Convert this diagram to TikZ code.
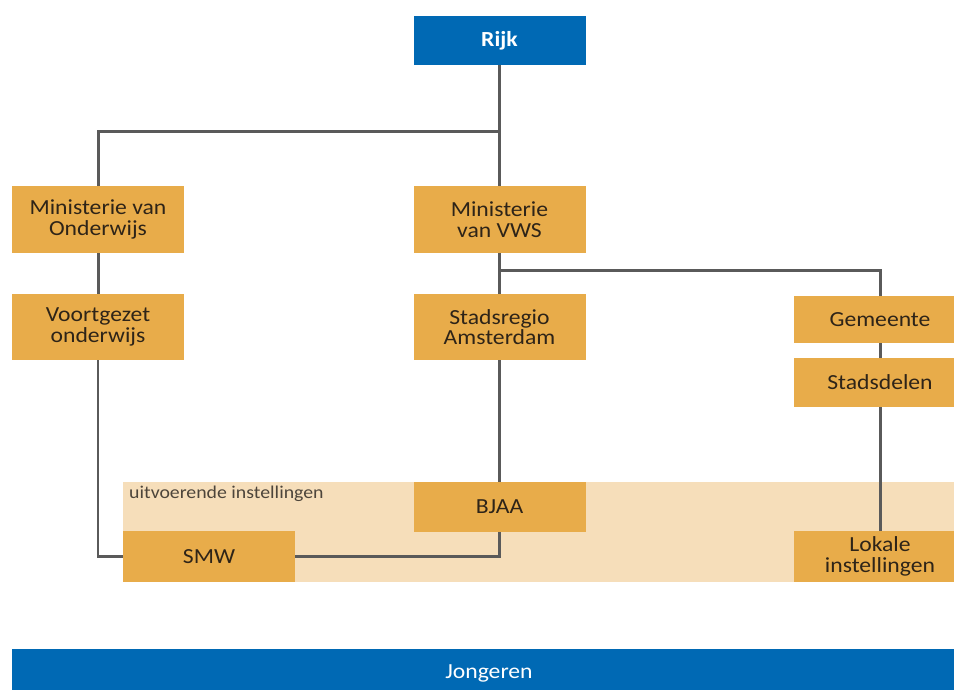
\documentclass[tikz,border=0pt]{standalone}
\usepackage{fontspec}
\setmainfont{Carlito}[FakeStretch=1.1]
\definecolor{boxor}{HTML}{E8AC4A}
\definecolor{bandor}{HTML}{F6DEBA}
\definecolor{boxblue}{HTML}{0069B4}
\definecolor{linegray}{HTML}{5A5A5A}
\definecolor{txtdark}{HTML}{2E2418}
\begin{document}
\begin{tikzpicture}[x=1pt,y=-1pt,
  orbox/.style={fill=boxor,text=txtdark,minimum width=172pt,inner sep=0pt,align=center,font=\fontsize{21.5}{20.5}\selectfont},
  bluebox/.style={fill=boxblue,text=white,minimum width=172pt,inner sep=0pt,align=center,font=\fontsize{21.5}{20.5}\selectfont},
  conn/.style={draw=linegray,line width=3pt}]
\useasboundingbox (0,0) rectangle (954,690);
\clip (0,0) rectangle (954,690);
% band
\fill[bandor] (123,482) rectangle (970,582);
\node[anchor=north west,inner sep=0pt,text=txtdark!85,font=\fontsize{18}{19}\selectfont] (lbl) at (129,486) {uitvoerende instellingen};
% nodes
\node[bluebox,minimum height=49pt,font=\fontsize{21.5}{20.5}\selectfont\bfseries] (rijk) at (499.5,40.5) {Rijk};
\node[orbox,minimum height=67pt] (mino) at (98,219.5) {Ministerie van\\Onderwijs};
\node[orbox,minimum height=67pt] (minv) at (499.5,219.5) {Ministerie\\van VWS};
\node[orbox,minimum height=66pt] (vo) at (98,327) {Voortgezet\\onderwijs};
\node[orbox,minimum height=66pt] (sa) at (499.5,327) {Stadsregio\\Amsterdam};
\node[orbox,minimum height=47pt] (gem) at (880,319.5) {Gemeente};
\node[orbox,minimum height=49pt] (sd) at (880,382.5) {Stadsdelen};
\node[orbox,minimum height=50pt] (bjaa) at (499.5,507) {BJAA};
\node[orbox,minimum height=51pt] (smw) at (209,556.5) {SMW};
\node[orbox,minimum height=51pt] (lok) at (880,556.5) {Lokale\\instellingen};
\node[bluebox,minimum width=954pt,minimum height=48pt] (jong) at (489,673) {Jongeren};
% connectors
\coordinate (j1) at (499.5,132);
\coordinate (j2) at (499.5,270);
\draw[conn] (rijk.south) -- (minv.north);
\draw[conn] (j1) -| (mino.north);
\draw[conn] (mino.south) -- (vo.north);
\draw[conn,line width=2.5pt] (vo.south) |- (smw.west);
\draw[conn] (minv.south) -- (sa.north);
\draw[conn] (j2) -| (gem.north);
\draw[conn] (gem.south) -- (sd.north);
\draw[conn] (sd.south) -- (lok.north);
\draw[conn] (sa.south) -- (bjaa.north);
\draw[conn] (bjaa.south) |- (smw.east);
\end{tikzpicture}
\end{document}
